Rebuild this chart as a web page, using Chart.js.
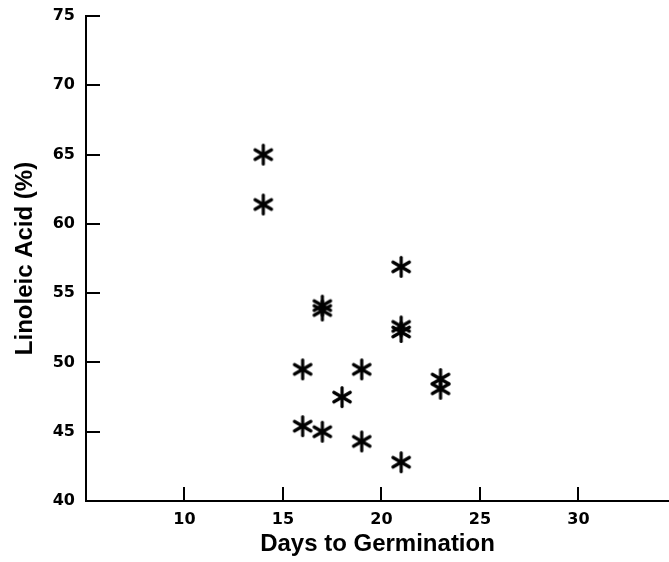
<!DOCTYPE html>
<html>
<head>
<meta charset="utf-8">
<script src="https://cdn.jsdelivr.net/npm/chart.js@4.4.1/dist/chart.umd.min.js"></script>
<style>
    html, body { margin: 0; padding: 0; background: #fff; overflow: hidden; }
    #chart-wrap { width: 669px; height: 562px; }
</style>
</head>
<body>
<div id="chart-wrap"><canvas id="germination-chart" width="669" height="562"></canvas></div>
<script>
// values
var days_to_germination = [14, 14, 16, 16, 17, 17, 17, 18, 19, 19, 21, 21, 21, 21, 23, 23];
var linoleic_acid = [65.0, 61.4, 49.5, 45.4, 54.1, 53.75, 45.0, 47.5, 49.5, 44.3, 56.9, 52.6, 52.2, 42.8, 48.8, 48.1];
var x_ticks = [10, 15, 20, 25, 30];
var y_ticks = [40, 45, 50, 55, 60, 65, 70, 75];

// six-armed asterisk used as the marker
function makeAsterisk() {
    var c = document.createElement('canvas');
    c.width = 24;
    c.height = 24;
    var g = c.getContext('2d');
    var r = 9.5;
    g.strokeStyle = '#000';
    g.lineWidth = 3.2;
    g.lineCap = 'round';
    g.translate(12, 12);
    for (var i = 0; i < 3; i++) {
        var a = Math.PI / 2 + i * Math.PI / 3;
        g.beginPath();
        g.moveTo(Math.cos(a) * r, Math.sin(a) * r);
        g.lineTo(-Math.cos(a) * r, -Math.sin(a) * r);
        g.stroke();
    }
    return c;
}

var points = [];
for (var i = 0; i < days_to_germination.length; i++) {
    points.push({ x: days_to_germination[i], y: linoleic_acid[i] });
}

function $each(list, fn) {
    for (var k = 0; k < list.length; k++) fn(list[k]);
}

// inward tick marks like the original plot
var inwardTicks = {
    id: 'inwardTicks',
    afterDraw: function (chart) {
        var ctx = chart.ctx;
        var area = chart.chartArea;
        var xs = chart.scales.x;
        var ys = chart.scales.y;
        ctx.save();
        ctx.strokeStyle = '#000';
        ctx.lineWidth = 2;
        $each(y_ticks, function (v) {
            var py = Math.round(ys.getPixelForValue(v));
            ctx.beginPath();
            ctx.moveTo(area.left, py);
            ctx.lineTo(area.left + 14, py);
            ctx.stroke();
        });
        $each(x_ticks, function (v) {
            var px = Math.round(xs.getPixelForValue(v));
            ctx.beginPath();
            ctx.moveTo(px, area.bottom);
            ctx.lineTo(px, area.bottom - 14);
            ctx.stroke();
        });
        ctx.restore();
    }
};

var tickFont = { family: '"DejaVu Sans", sans-serif', size: 16, weight: 'bold' };
var titleFont = { family: '"Liberation Sans", Arial, sans-serif', size: 24, weight: 'bold' };

var GerminationChart = new Chart(document.getElementById('germination-chart'), {
    type: 'scatter',
    data: {
        datasets: [{
            label: 'Linoleic Acid',
            data: points,
            pointStyle: makeAsterisk(),
            pointRadius: 10,
            pointHoverRadius: 10
        }]
    },
    plugins: [inwardTicks],
    options: {
        responsive: false,
        animation: false,
        layout: { autoPadding: false, padding: { top: 16, right: 0, left: 0, bottom: 0 } },
        plugins: {
            legend: { display: false },
            tooltip: { enabled: false }
        },
        scales: {
            x: {
                type: 'linear',
                min: 5,
                max: 34.6,
                grid: { display: false, drawTicks: false },
                border: { display: true, color: '#000', width: 2 },
                afterBuildTicks: function (scale) {
                    scale.ticks = x_ticks.map(function (v) { return { value: v }; });
                },
                afterFit: function (scale) { scale.height = 61; },
                ticks: {
                    color: '#000',
                    font: tickFont,
                    padding: 9,
                    maxRotation: 0
                },
                title: {
                    display: true,
                    text: 'Days to Germination',
                    color: '#000',
                    font: titleFont,
                    padding: { top: 0, bottom: 3 }
                }
            },
            y: {
                type: 'linear',
                min: 40,
                max: 75,
                grid: { display: false, drawTicks: false },
                border: { display: true, color: '#000', width: 2 },
                afterBuildTicks: function (scale) {
                    scale.ticks = y_ticks.map(function (v) { return { value: v }; });
                },
                afterFit: function (scale) {
                    scale.width = 86;
                    scale.paddingTop = 0;
                    scale.paddingBottom = 0;
                },
                ticks: {
                    color: '#000',
                    font: tickFont,
                    padding: 11
                },
                title: {
                    display: true,
                    text: 'Linoleic Acid (%)',
                    color: '#000',
                    font: titleFont,
                    padding: { top: 11, bottom: 0 }
                }
            }
        }
    }
});
</script>
</body>
</html>
